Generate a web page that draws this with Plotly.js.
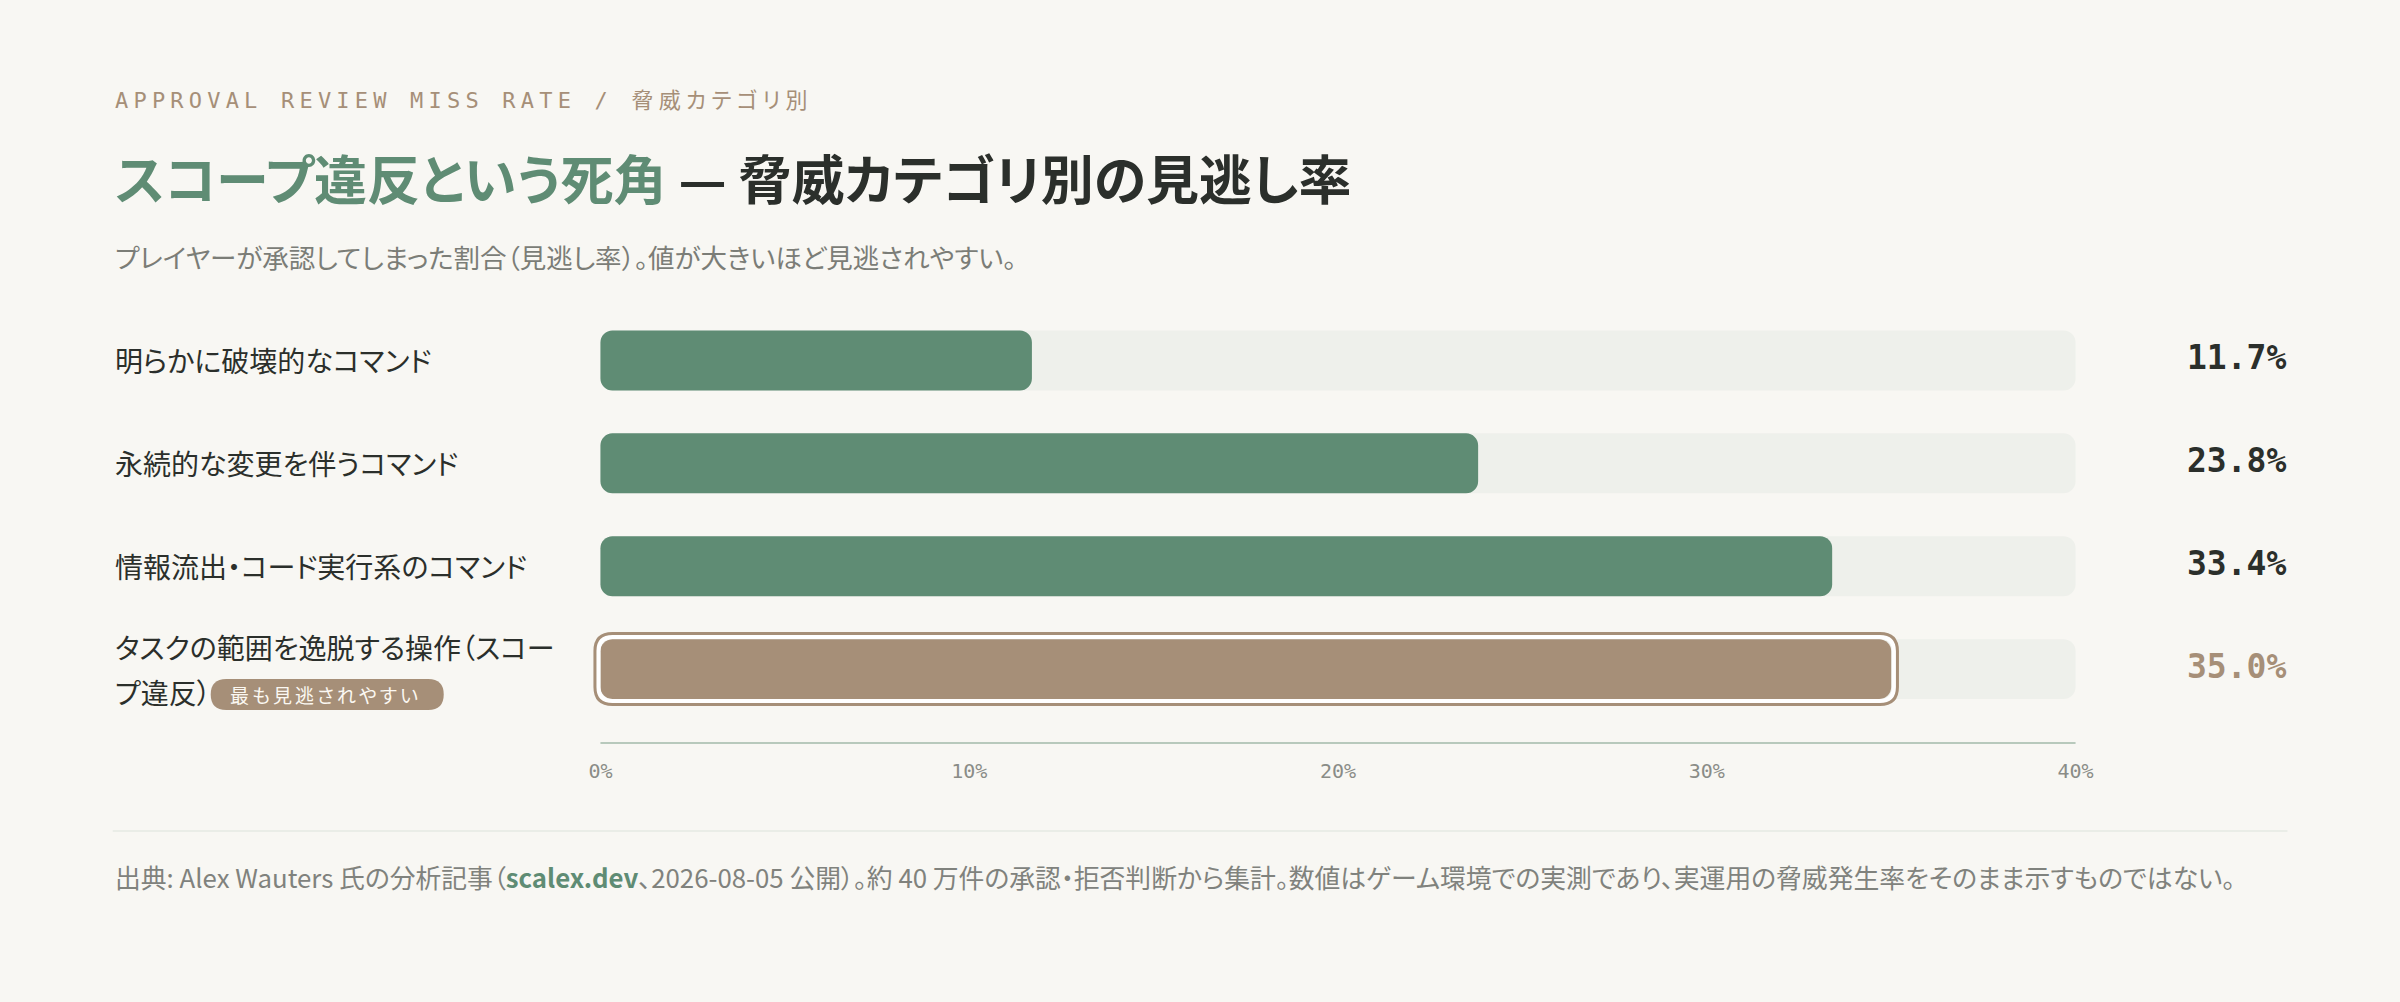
<!DOCTYPE html>
<html>
<head>
<meta charset="utf-8">
<script src="https://cdn.plot.ly/plotly-3.0.1.min.js"></script>
<style>
  html, body { margin: 0; padding: 0; background: #f8f7f3; }
  #chart { width: 2400px; height: 1002px; }
  text { font-feature-settings: "palt" 1; }
</style>
</head>
<body>
<div id="chart"></div>
<script>
// data
var categories = [
	'明らかに破壊的なコマンド',
	'永続的な変更を伴うコマンド',
	'情報流出・コード実行系のコマンド',
	'タスクの範囲を逸脱する操作（スコープ違反）'
];
var missRate = [11.7, 23.8, 33.4, 35.0];
var highlightCategory = 'タスクの範囲を逸脱する操作（スコープ違反）';
var highlightTag = '最も見逃されやすい';
var tickValues = [0, 10, 20, 30, 40];
var tickLabels = ['0%', '10%', '20%', '30%', '40%'];
var axisMax = 40;

var eyebrow = 'APPROVAL REVIEW MISS RATE / 脅威カテゴリ別';
var titleLead = 'スコープ違反という死角';
var titleRest = '脅威カテゴリ別の見逃し率';
var subtitle = 'プレイヤーが承認してしまった割合（見逃し率）。値が大きいほど見逃されやすい。';
var sourceLead = '出典: Alex Wauters 氏の分析記事（';
var sourceLink = 'scalex.dev';
var sourceRest = '、2026-08-05 公開）。約 40 万件の承認・拒否判断から集計。数値はゲーム環境での実測であり、実運用の脅威発生率をそのまま示すものではない。';

// colours
var GREEN = '#5f8c74', BROWN = '#a68f78', TRACK = '#eef0eb';
var BG = '#f8f7f3', INK = '#2b2f2b', GREY = '#7b7d77';

// geometry (px)
var pxPerUnit = 36.9, xPad = 0.5;
var rowPitch = 103, firstRow = 360, barPx = 60;
var yPadBottom = 0.218;
var L = 600 - xPad * pxPerUnit;
var W = (axisMax + 2 * xPad) * pxPerUnit;
var T = firstRow - 0.5 * rowPitch;
var H = (categories.length + yPadBottom) * rowPitch;
var B = 1002 - T - H;
var R = 2400 - L - W;
var barWidth = barPx / rowPitch;

function paperX(px) { return (px - L) / W; }
function paperY(py) { return 1 - (py - T) / H; }

function wrapLabel(s, n) {
	var lines = [];
	for (var i = 0; i < s.length; i += n) lines.push(s.slice(i, i + n));
	return lines;
}

function roundRect(x0, y0, x1, y1, r) {
	return 'M' + (x0 + r) + ',' + y0 + ' L' + (x1 - r) + ',' + y0 +
		' Q' + x1 + ',' + y0 + ' ' + x1 + ',' + (y0 + r) +
		' L' + x1 + ',' + (y1 - r) +
		' Q' + x1 + ',' + y1 + ' ' + (x1 - r) + ',' + y1 +
		' L' + (x0 + r) + ',' + y1 +
		' Q' + x0 + ',' + y1 + ' ' + x0 + ',' + (y1 - r) +
		' L' + x0 + ',' + (y0 + r) +
		' Q' + x0 + ',' + y0 + ' ' + (x0 + r) + ',' + y0 + ' Z';
}

var barColors = categories.map(function(c) { return c === highlightCategory ? BROWN : GREEN; });
var trackValues = categories.map(function() { return axisMax; });

// an explicit base makes plotly round both ends of the bar
var trace_track = {
	type: 'bar', orientation: 'h',
	y: categories, x: trackValues, base: 0,
	width: barWidth,
	marker: { color: TRACK, cornerradius: 12 },
	hoverinfo: 'skip', showlegend: false
};
var trace_rate = {
	type: 'bar', orientation: 'h',
	y: categories, x: missRate, base: 0,
	width: barWidth,
	marker: { color: barColors, cornerradius: 12 },
	hoverinfo: 'skip', showlegend: false
};
var data = [trace_track, trace_rate];

var annotations = [];
var spaced = [];
var labelFont = { family: 'Noto Sans CJK JP', size: 28, color: INK };

annotations.push({ xref: 'paper', yref: 'paper', x: paperX(112), y: paperY(100), xanchor: 'left', yanchor: 'middle',
	text: eyebrow, showarrow: false,
	font: { family: 'DejaVu Sans Mono, Noto Sans CJK JP', size: 22, color: BROWN } });
spaced.push([annotations.length - 1, '5.2px']);

annotations.push({ xref: 'paper', yref: 'paper', x: paperX(112), y: paperY(176), xanchor: 'left', yanchor: 'middle',
	text: '<span style="color:' + GREEN + '">' + titleLead + '</span> — ' + titleRest, showarrow: false,
	font: { family: 'Noto Sans CJK JP', size: 53, color: INK, weight: 700 } });

annotations.push({ xref: 'paper', yref: 'paper', x: paperX(112), y: paperY(256), xanchor: 'left', yanchor: 'middle',
	text: subtitle, showarrow: false,
	font: { family: 'Noto Sans CJK JP', size: 26.5, color: GREY } });

annotations.push({ xref: 'paper', yref: 'paper', x: paperX(112), y: paperY(877), xanchor: 'left', yanchor: 'middle',
	text: sourceLead + '<span style="color:' + GREEN + '"><b>' + sourceLink + '</b></span>' + sourceRest, showarrow: false,
	font: { family: 'Noto Sans CJK JP', size: 25.8, color: '#80827d' } });

var shapes = [];
categories.forEach(function(c, i) {
	var lines = wrapLabel(c, 17);
	lines.forEach(function(line, j) {
		annotations.push({ xref: 'paper', yref: 'y', x: paperX(112), y: c, xanchor: 'left', yanchor: 'middle',
			yshift: (lines.length - 1) * 22.5 - j * 45, text: line, showarrow: false, font: labelFont });
	});
	var hi = c === highlightCategory;
	annotations.push({ xref: 'paper', yref: 'y', x: paperX(2289), y: c, xanchor: 'right', yanchor: 'middle',
		yshift: 3, text: missRate[i].toFixed(1) + '%', showarrow: false,
		font: { family: 'DejaVu Sans Mono', size: 33, color: hi ? BROWN : INK, weight: 700 } });
	if (hi) {
		// tag pill after the wrapped label
		shapes.push({ type: 'path', xref: 'paper', yref: 'y', xsizemode: 'pixel', ysizemode: 'pixel',
			xanchor: paperX(112), yanchor: c, path: roundRect(98, -41, 331, -10, 15.5),
			fillcolor: BROWN, line: { width: 0 }, layer: 'above' });
		annotations.push({ xref: 'paper', yref: 'y', x: paperX(227), y: c, xanchor: 'left', yanchor: 'middle',
			yshift: -25.5, text: highlightTag, showarrow: false,
			font: { family: 'Noto Sans CJK JP', size: 19, color: '#fbf8f2' } });
		spaced.push([annotations.length - 1, '3px']);
		// white + brown ring round the highlighted bar
		var len = missRate[i] * pxPerUnit;
		shapes.push({ type: 'path', xref: 'x', yref: 'y', xsizemode: 'pixel', ysizemode: 'pixel',
			xanchor: 0, yanchor: c, path: roundRect(-2, -32, len + 2, 32, 14),
			line: { color: '#ffffff', width: 4 }, layer: 'above' });
		shapes.push({ type: 'path', xref: 'x', yref: 'y', xsizemode: 'pixel', ysizemode: 'pixel',
			xanchor: 0, yanchor: c, path: roundRect(-5.5, -35.5, len + 5.5, 35.5, 17.5),
			line: { color: BROWN, width: 3 }, layer: 'above' });
	}
});

// axis baseline and footer divider
shapes.push({ type: 'line', xref: 'x', yref: 'paper', x0: tickValues[0], x1: tickValues[tickValues.length - 1], y0: 0, y1: 0,
	line: { color: '#b8c9bc', width: 2 } });
shapes.push({ type: 'line', xref: 'paper', yref: 'paper', x0: paperX(112), x1: paperX(2288), y0: paperY(831), y1: paperY(831),
	line: { color: '#eaede7', width: 2 } });

var layout = {
	width: 2400, height: 1002,
	paper_bgcolor: BG, plot_bgcolor: BG,
	margin: { l: L, r: R, t: T, b: B, pad: 0 },
	barmode: 'overlay',
	xaxis: {
		range: [-xPad, axisMax + xPad],
		tickvals: tickValues, ticktext: tickLabels,
		showgrid: false, zeroline: false, showline: false, ticks: '',
		ticklabelstandoff: 14,
		tickfont: { family: 'DejaVu Sans Mono', size: 20, color: '#8a8c87' },
		fixedrange: true
	},
	yaxis: {
		type: 'category',
		range: [categories.length - 0.5 + yPadBottom, -0.5],
		showgrid: false, zeroline: false, showline: false, showticklabels: false, ticks: '',
		fixedrange: true
	},
	shapes: shapes,
	annotations: annotations,
	showlegend: false
};

var gd = document.getElementById('chart');
Plotly.newPlot(gd, data, layout, { staticPlot: true }).then(function() {
	// letter-spacing, keeping the left edge where plotly put it
	spaced.forEach(function(s) {
		var t = gd.querySelector('.annotation[data-index="' + s[0] + '"] text');
		if (!t) return;
		var w0 = t.getBBox().width;
		t.style.letterSpacing = s[1];
		var w1 = t.getBBox().width;
		t.setAttribute('transform', 'translate(' + ((w1 - w0) / 2) + ',0)');
	});
});
</script>
</body>
</html>
